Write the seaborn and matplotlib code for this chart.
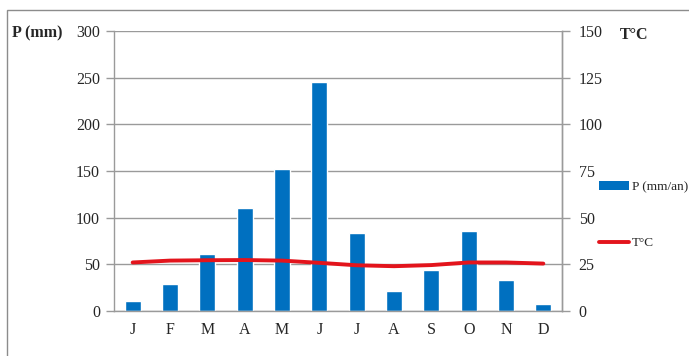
import numpy as np
import pandas as pd
import matplotlib
matplotlib.use("Agg")
import matplotlib.pyplot as plt
from matplotlib.patches import Rectangle, Patch
from matplotlib.lines import Line2D
import seaborn as sns

# Monthly climate data
months = ["J", "F", "M", "A", "M", "J", "J", "A", "S", "O", "N", "D"]
precip = [11, 29, 61, 110, 152, 245, 84, 21, 44, 86, 33, 8]          # P (mm)
temp = [26.0, 27.0, 27.2, 27.3, 27.0, 25.8, 24.5, 24.0, 24.6, 26.0, 26.0, 25.4]  # T°C
p_ticks = [0, 50, 100, 150, 200, 250, 300]
t_ticks = [0, 25, 50, 75, 100, 125, 150]

sns.set_theme(style="white")
plt.rcParams["font.family"] = ["Liberation Serif", "DejaVu Serif"]

df = pd.DataFrame({"idx": np.arange(len(months)), "month": months,
                   "P": precip, "T": temp})

W, H = 689, 356
fig = plt.figure(figsize=(W / 100, H / 100), dpi=100)
ax = fig.add_axes([114 / W, 1 - 311 / H, (562 - 114) / W, (311 - 31) / H])

blue = "#0070C0"
red = "#E3141C"
grid = "#9A9A9A"

sns.barplot(data=df, x="idx", y="P", ax=ax, color=blue, width=0.42,
            saturation=1, order=list(df["idx"]))
ax.set_xlim(-0.5, len(months) - 0.5)
ax.set_ylim(0, 300)
ax.set_yticks(p_ticks)
ax.set_yticklabels([str(v) for v in p_ticks], fontsize=11.5)
ax.yaxis.grid(True, color=grid, linewidth=1)
ax.set_axisbelow(True)
ax.set_xlabel("")
ax.set_ylabel("")

ax.set_xticks(np.arange(len(months)))
ax.set_xticklabels(months, fontsize=11.5)
ax.set_xticks(np.arange(-0.5, len(months)), minor=True)
ax.tick_params(axis="x", which="major", length=0, pad=8)
ax.tick_params(axis="x", which="minor", length=5, width=1, color=grid, direction="out")
ax.tick_params(axis="y", length=6, width=1, color=grid, direction="out", pad=4, left=True)

for s in ["left", "bottom", "right"]:
    ax.spines[s].set_color(grid)
    ax.spines[s].set_linewidth(1)
ax.spines["top"].set_visible(False)

ax2 = ax.twinx()
sns.lineplot(data=df, x="idx", y="T", ax=ax2, color=red, linewidth=2.8)
ax2.set_ylim(0, 150)
ax2.set_yticks(t_ticks)
ax2.set_yticklabels([str(v) for v in t_ticks], fontsize=11.5)
ax2.tick_params(axis="y", length=6, width=1, color=grid, direction="out", pad=6, right=True)
ax2.set_xlabel("")
ax2.set_ylabel("")
for s in ["left", "bottom", "top"]:
    ax2.spines[s].set_visible(False)
ax2.spines["right"].set_color(grid)
ax2.spines["right"].set_linewidth(1)
ax2.set_xlim(-0.5, len(months) - 0.5)

# Axis titles
fig.text(12 / W, 1 - 33 / H, "P (mm)", fontsize=11.5, fontweight="bold", va="center", ha="left")
fig.text(620 / W, 1 - 35 / H, "T°C", fontsize=11.5, fontweight="bold", va="center", ha="left")

# Legend
leg_kw = dict(loc="center left", frameon=False, borderpad=0, borderaxespad=0,
              handlelength=2.3, handletextpad=0.2, fontsize=9.5)
fig.legend(handles=[Patch(facecolor=blue, edgecolor="none")], labels=["P (mm/an)"],
           bbox_to_anchor=(599 / W, 1 - 187 / H), handleheight=0.65, **leg_kw)
fig.legend(handles=[Line2D([], [], color=red, linewidth=2.8)], labels=["T°C"],
           bbox_to_anchor=(599 / W, 1 - 243 / H), **leg_kw)

# Chart frame
fig.add_artist(Rectangle((7 / W, -0.2), 1.2, 1.2 - 10 / H, transform=fig.transFigure,
                         fill=False, edgecolor="#8C8C8C", linewidth=1, clip_on=False))

fig.savefig("out.png", dpi=100)
